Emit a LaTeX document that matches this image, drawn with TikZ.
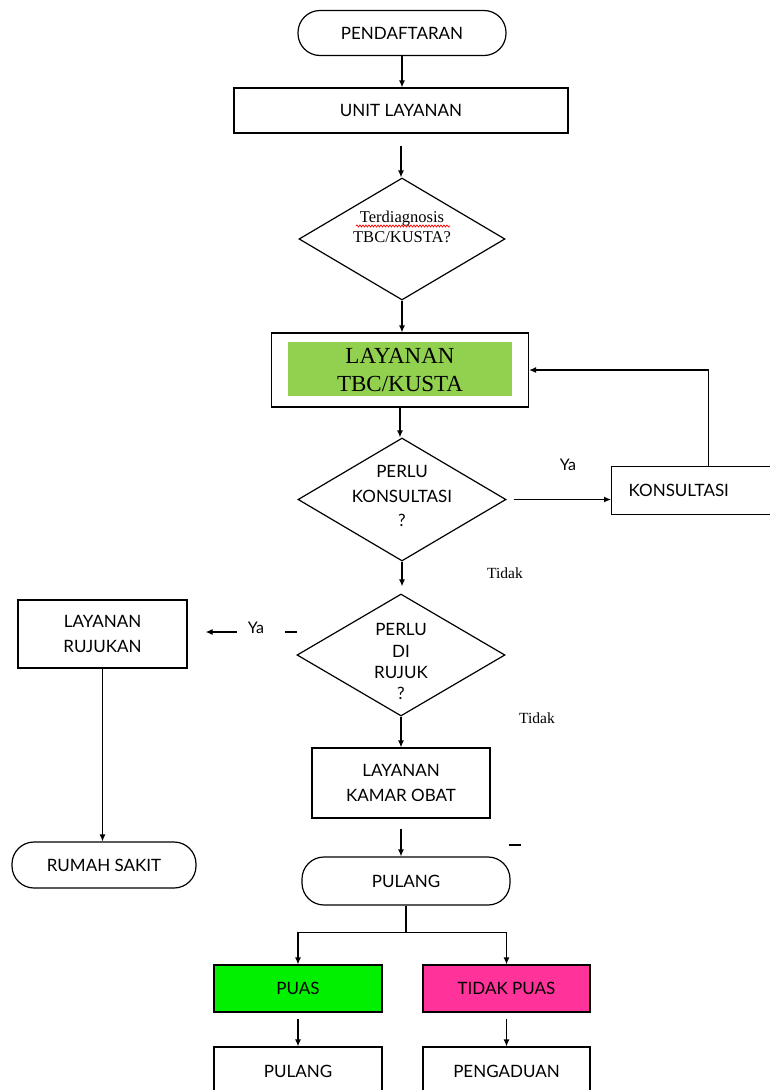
\documentclass[tikz,border=0pt]{standalone}
\usepackage{fontspec}
\setmainfont{Liberation Serif}
\newfontfamily\sansf{Lato}
\usetikzlibrary{shapes.geometric,arrows.meta,decorations.pathmorphing}
\definecolor{tbcgreen}{HTML}{92D050}
\definecolor{puasgreen}{HTML}{00F000}
\definecolor{tpink}{HTML}{FF3399}
\newcommand{\dtext}[3]{\raisebox{#1}[0pt][0pt]{\makebox[0pt]{#2\begin{tabular}{@{}c@{}}#3\end{tabular}}}}
\tikzset{
  base/.style={draw, line width=1.2pt, font=\sansf\fontsize{17}{21}\selectfont, inner sep=0pt},
  proc/.style={base, rectangle, align=center},
  term/.style={base, rectangle, rounded corners=22pt, align=center},
  dec/.style={base, diamond},
  arr/.style={-{Latex[length=7pt,width=6pt]}, line width=1.2pt},
  ln/.style={line width=1.2pt},
  lab/.style={font=\sansf\fontsize{16}{19}\selectfont},
  labs/.style={font=\fontsize{15.5}{18}\selectfont},
}
\begin{document}
\begin{tikzpicture}[x=1pt,y=1pt]
\useasboundingbox (0,0) rectangle (770,-1090);
% nodes
\node[term, minimum width=208pt, minimum height=45pt] (pend) at (402,-33) {PENDAFTARAN};
\node[proc, minimum width=334pt, minimum height=45pt] (unit) at (401,-110.5) {UNIT LAYANAN};
\node[dec, minimum width=206pt, minimum height=122pt] (d1) at (402,-239)
  {\dtext{6pt}{\rmfamily\fontsize{16.5}{20}\selectfont}{Terdiagnosis\\ TBC/KUSTA?}};
\node[proc, minimum width=257pt, minimum height=74pt,
  path picture={\fill[tbcgreen] ([shift={(16pt,-9pt)}]path picture bounding box.north west) rectangle ([shift={(-17pt,11pt)}]path picture bounding box.south east);},
  font=\rmfamily\fontsize{23}{28}\selectfont] (tbc) at (400,-370) {LAYANAN\\TBC/KUSTA};
\node[dec, minimum width=208pt, minimum height=123pt] (d2) at (402,-499.5)
  {\dtext{-2pt}{\fontsize{17}{24.5}\selectfont}{PERLU\\ KONSULTASI\\ ?}};
\node[proc, anchor=north west, minimum width=164pt, minimum height=48pt, text width=130pt, inner xsep=17pt, align=left] (kons) at (611,-466) {KONSULTASI};
\node[dec, minimum width=208pt, minimum height=122pt] (d3) at (401,-655)
  {\dtext{-13pt}{\fontsize{17}{21.3}\selectfont}{PERLU\\ DI\\ RUJUK\\ ?}};
\node[proc, minimum width=169pt, minimum height=68pt, font=\sansf\fontsize{17}{25}\selectfont] (ruj) at (102.5,-634) {LAYANAN\\RUJUKAN};
\node[proc, minimum width=178pt, minimum height=70pt, font=\sansf\fontsize{17}{25}\selectfont] (kamar) at (401,-783) {LAYANAN\\KAMAR OBAT};
\node[term, minimum width=184pt, minimum height=46pt] (rs) at (104,-865) {RUMAH SAKIT};
\node[term, minimum width=208pt, minimum height=48pt] (pul) at (406,-881) {PULANG};
\node[proc, fill=puasgreen, minimum width=168pt, minimum height=47pt] (puas) at (298,-988.5) {PUAS};
\node[proc, fill=tpink, minimum width=167pt, minimum height=47pt] (tpuas) at (506.5,-988.5) {TIDAK PUAS};
\node[proc, minimum width=168pt, minimum height=48pt] (pul2) at (298,-1071) {PULANG};
\node[proc, minimum width=167pt, minimum height=48pt] (peng) at (506.5,-1071) {PENGADUAN};
% spelling underline
\draw[red, line width=0.7pt, decorate, decoration={snake, amplitude=1pt, segment length=3pt}]
  ([shift={(-46pt,13pt)}]d1.center) -- ([shift={(48pt,13pt)}]d1.center);
% connectors
\draw[arr] (pend.south) -- (pend.south |- unit.north);
\draw[arr, shorten <=12pt] (unit.south) -- (unit.south |- d1.north);
\draw[arr] (d1.south) -- (d1.south |- tbc.north);
\draw[arr] (tbc.south) -- (tbc.south |- d2.north);
\draw[arr, shorten <=7pt] (d2.east) -- (d2.east -| kons.west);
\draw[arr] ([xshift=15pt]kons.north) |- (tbc.east);
\draw[arr, shorten >=7pt] (d2.south) -- (d2.south |- d3.north);
\coordinate (yas) at (237,-632);
\draw[arr, shorten >=18pt] (yas) -- (yas -| ruj.east);
\draw[arr] (d3.south) -- (d3.south |- kamar.north);
\draw[arr] (ruj.south) -- (ruj.south |- rs.north);
\draw[arr, shorten <=10pt] (kamar.south) -- (kamar.south |- pul.north);
\draw[ln] (pul.south) -- ++(0,-27) coordinate (split);
\draw[arr] (split) -| (puas.north);
\draw[arr] (split) -| (tpuas.north);
\draw[arr, shorten <=6pt] (puas.south) -- (pul2.north);
\draw[arr, shorten <=6pt] (tpuas.south) -- (peng.north);
% stray dashes
\coordinate (dashA) at (285,-632);
\draw[ln] (dashA) -- ++(12,0);
\coordinate (dashB) at (509,-845);
\draw[ln] (dashB) -- ++(12,0);
% labels
\node[lab] (ya1) at (568,-465) {Ya};
\node[labs] (tidak1) at (505,-573) {Tidak};
\node[lab] (ya2) at (256,-628) {Ya};
\node[labs] (tidak2) at (537,-718) {Tidak};
\end{tikzpicture}
\end{document}
